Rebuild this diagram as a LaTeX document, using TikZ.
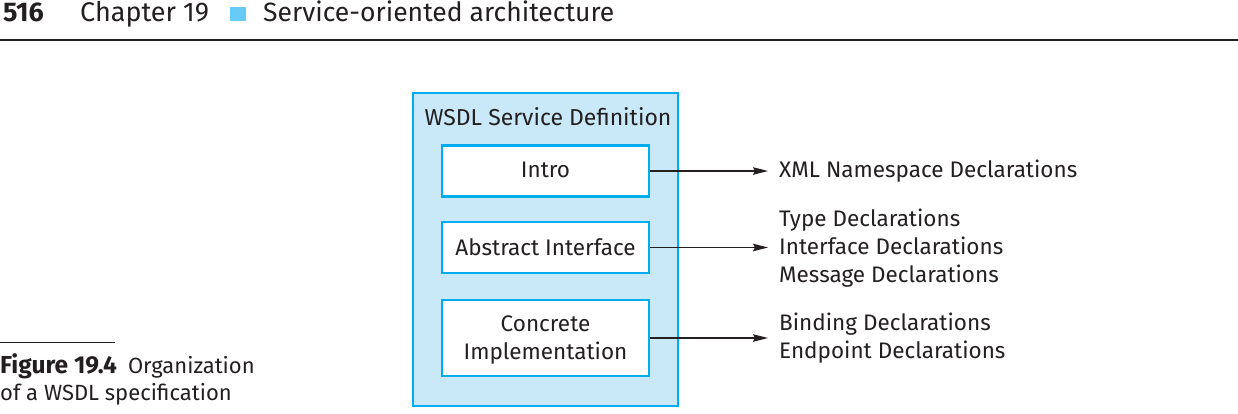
\documentclass[tikz,border=0pt]{standalone}
\usepackage{fontspec}
\setmainfont{Fira Sans}
\usetikzlibrary{arrows.meta}
\definecolor{bordercyan}{HTML}{00AEEF}
\definecolor{fillcyan}{HTML}{C9E9F8}
\definecolor{squarecyan}{HTML}{66CCF5}
\definecolor{ink}{HTML}{231F20}
\tikzset{
  diagtext/.style={font=\fontsize{22.5}{28}\selectfont, text=ink, inner sep=0pt},
  boxtext/.style={diagtext, anchor=base},
  innerbox/.style={draw=bordercyan, line width=2.6pt, fill=white, minimum width=207pt, inner sep=0pt},
  decl/.style={diagtext, anchor=base west},
  headtext/.style={anchor=base west, inner sep=0pt, font=\fontsize{27}{30}\selectfont, text=ink},
  captext/.style={anchor=base west, inner sep=0pt, font=\fontsize{22}{28}\selectfont, text=ink},
  conn/.style={draw=ink, line width=1.3pt, -{Stealth[length=15pt,width=7.5pt,inset=2pt]}, shorten >=11pt},
}
\begin{document}
\begin{tikzpicture}[x=1pt,y=-1pt]
\useasboundingbox (0,0) rectangle (1238,413);
% header
\node[headtext, font=\fontsize{27}{30}\selectfont\bfseries] (pg) at (3,21) {516};
\node[headtext] (ch) at (80,21) {Chapter 19};
\node[fill=squarecyan, minimum width=16pt, minimum height=14pt, inner sep=0pt] (sq) at (237.5,14) {};
\node[headtext, font=\fontsize{26.5}{30}\selectfont] (ti) at (263,21) {Service-oriented architecture};
\draw[ink, line width=1.3pt] (0,40) -- (1238,40);
% outer box
\node[draw=bordercyan, line width=2.6pt, fill=fillcyan, minimum width=265pt, minimum height=313pt, inner sep=0pt] (outer) at (545.5,249.5) {};
\node[boxtext, font=\fontsize{23}{28}\selectfont] (title) at (548,125.5) {WSDL Service Definition};
\node[innerbox, minimum height=51pt] (intro) at (545.5,171) {};
\node[boxtext] (introtxt) at (545.5,177.3) {Intro};
\node[innerbox, minimum height=51pt] (abs) at (545.5,247.5) {};
\node[boxtext] (abstxt) at (545.5,255) {Abstract Interface};
\node[innerbox, minimum height=76pt] (conc) at (545.5,338) {};
\node[boxtext] (conctxt1) at (545.5,331.7) {Concrete};
\node[boxtext] (conctxt2) at (545.5,359.3) {Implementation};
% right texts
\node[decl] (xml) at (779,177) {XML Namespace Declarations};
\node[decl] (type) at (779,226) {Type Declarations};
\node[decl] (iface) at (779,254) {Interface Declarations};
\node[decl] (msg) at (779,282) {Message Declarations};
\node[decl] (bind) at (779,330) {Binding Declarations};
\node[decl] (endp) at (779,358) {Endpoint Declarations};
% connectors
\draw[conn] (intro.east) -- (intro.east -| xml.west);
\draw[conn] (abs.east) -- (abs.east -| iface.west);
\draw[conn] (conc.east) -- (conc.east -| bind.west);
% caption
\draw[ink, line width=1pt] (0,342) -- (115,342);
\node[captext] (cap1) at (0,373) {{\fontsize{24.5}{28}\selectfont\bfseries Figure 19.4}\hspace{11pt}Organization};
\node[captext] (cap2) at (0,400) {of a WSDL specification};
\end{tikzpicture}
\end{document}
